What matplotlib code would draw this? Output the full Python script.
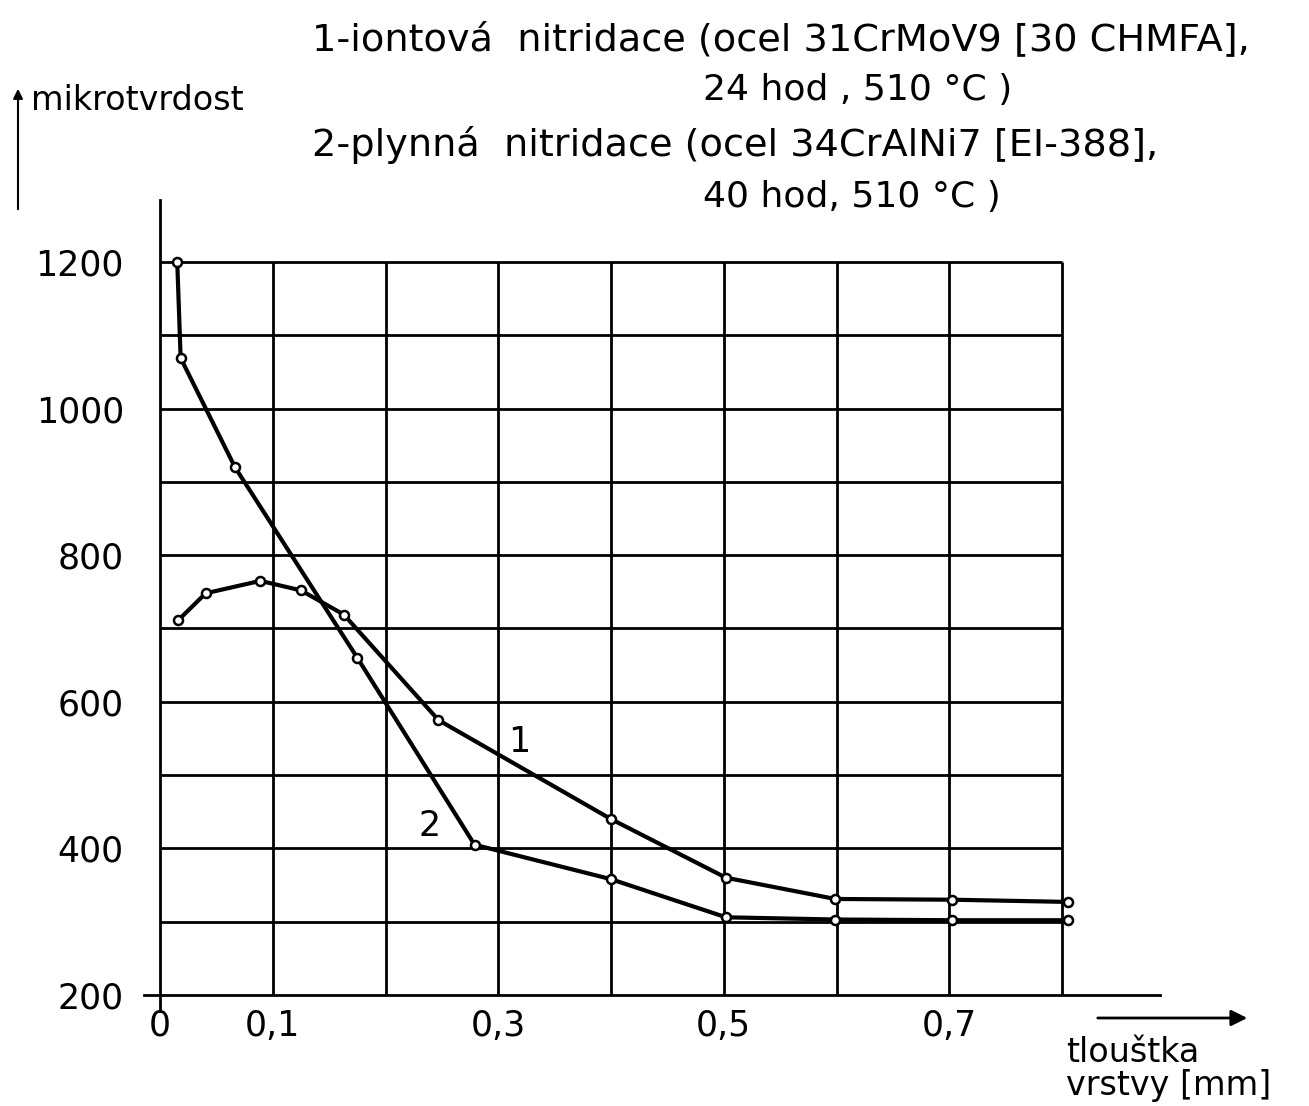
import matplotlib
matplotlib.use("Agg")
import matplotlib.pyplot as plt

# Data (thickness in mm, microhardness)
x_ion = [0.016, 0.0405, 0.089, 0.125, 0.163, 0.247, 0.40, 0.502, 0.599, 0.702, 0.805]
y_ion = [711, 748, 765, 752, 719, 575, 440, 360, 331, 330, 327]
x_gas = [0.0153, 0.0183, 0.0665, 0.175, 0.279, 0.40, 0.502, 0.599, 0.702, 0.805]
y_gas = [1200, 1069, 920, 660, 405, 358, 306, 303, 302, 302]

x_ticks = [0, 0.1, 0.3, 0.5, 0.7]
x_ticklabels = ["0", "0,1", "0,3", "0,5", "0,7"]
y_ticks = [200, 400, 600, 800, 1000, 1200]
y_ticklabels = ["200", "400", "600", "800", "1000", "1200"]
x_grid = [0.1, 0.2, 0.3, 0.4, 0.5, 0.6, 0.7, 0.8]
y_grid = [300, 400, 500, 600, 700, 800, 900, 1000, 1100, 1200]

title_lines = ["1-iontová  nitridace (ocel 31CrMoV9 [30 CHMFA],",
               "24 hod , 510 °C )",
               "2-plynná  nitridace (ocel 34CrAlNi7 [EI-388],",
               "40 hod, 510 °C )"]

W, H = 1309, 1106
fig = plt.figure(figsize=(W / 100, H / 100), dpi=100)
ax = fig.add_axes([0, 0, 1, 1])

# pixel mapping: x=0 -> 160px, 0.8 -> 1062px ; y=200 -> 995px, 1200 -> 262px (from top)
sx = (1062 - 160) / 0.8
sy = (995 - 262) / 1000.0
ax.set_xlim(-160 / sx, (W - 160) / sx)
ax.set_ylim(200 - (H - 995) / sy, 200 + 995 / sy)

for s in ["top", "right"]:
    ax.spines[s].set_visible(False)
ax.spines["left"].set_position(("data", 0))
ax.spines["bottom"].set_position(("data", 200))
ax.spines["left"].set_bounds(178, 1285)
ax.spines["bottom"].set_bounds(-0.014, 0.887)
ax.spines["left"].set_linewidth(2.0)
ax.spines["bottom"].set_linewidth(2.0)

gcol = "black"
ax.hlines(y_grid, 0, 0.8, colors=gcol, linewidth=2.0, zorder=1)
ax.vlines(x_grid, 200, 1200, colors=gcol, linewidth=2.0, zorder=1)

mk = dict(marker="o", markersize=6.5, markerfacecolor="white",
          markeredgecolor="black", markeredgewidth=1.8)
ax.plot(x_ion, y_ion, color="black", linewidth=3.0, zorder=3, **mk)
ax.plot(x_gas, y_gas, color="black", linewidth=3.0, zorder=3, **mk)

fs = 25
ax.set_xticks(x_ticks)
ax.set_xticklabels(x_ticklabels, fontsize=fs)
ax.set_yticks(y_ticks)
ax.set_yticklabels(y_ticklabels, fontsize=fs)
ax.tick_params(axis="x", length=0, pad=10)
ax.tick_params(axis="y", length=0, pad=26)

ax.text(0.319, 545, "1", fontsize=fs, ha="center", va="center")
ax.text(0.239, 431, "2", fontsize=fs, ha="center", va="center")

# title block
def fy(py):
    return 1 - py / H

fig.text(312 / W, fy(40), title_lines[0], fontsize=27.5, ha="left", va="center")
fig.text(703 / W, fy(90), title_lines[1], fontsize=26, ha="left", va="center")
fig.text(312 / W, fy(145), title_lines[2], fontsize=27.5, ha="left", va="center")
fig.text(703 / W, fy(197), title_lines[3], fontsize=26, ha="left", va="center")

fig.text(31 / W, fy(100), "mikrotvrdost", fontsize=24, ha="left", va="center")
fig.text(1066 / W, fy(1053), "tlouštka", fontsize=24, ha="left", va="center")
fig.text(1066 / W, fy(1086), "vrstvy [mm]", fontsize=24, ha="left", va="center")

# axis arrows
ax.annotate("", xy=(18, H - 86), xytext=(18, H - 212), xycoords="figure pixels",
            textcoords="figure pixels",
            arrowprops=dict(arrowstyle="-|>", color="black", lw=1.5, mutation_scale=14))
ax.annotate("", xy=(1250, H - 1018), xytext=(1095, H - 1018), xycoords="figure pixels",
            textcoords="figure pixels",
            arrowprops=dict(arrowstyle="-|>", color="black", lw=2.0, mutation_scale=24))

fig.savefig("out.png", dpi=100)
